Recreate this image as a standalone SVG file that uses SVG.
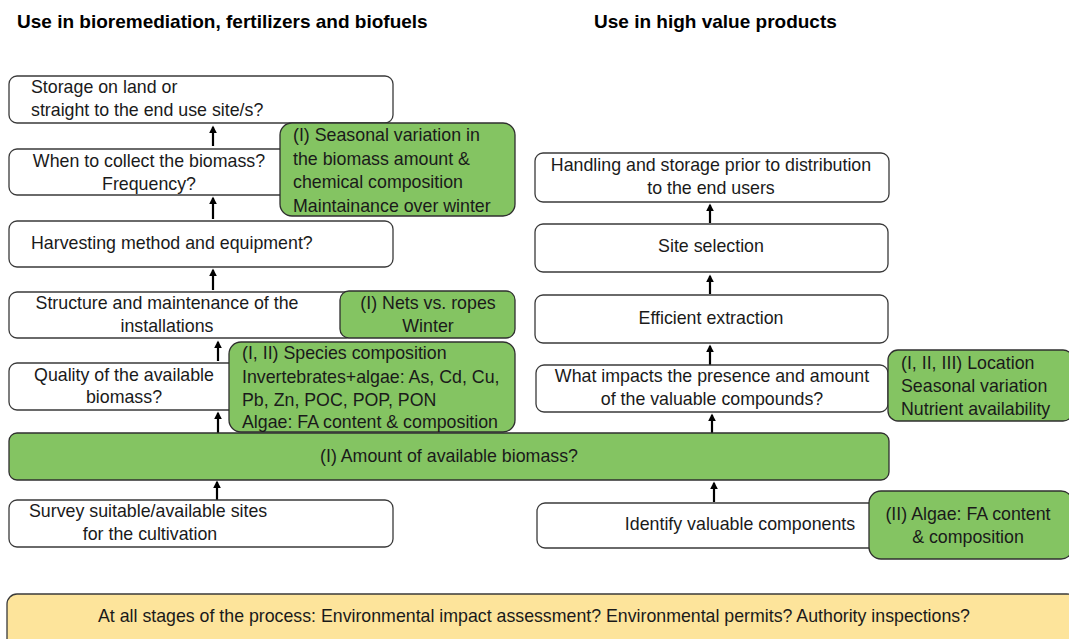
<svg xmlns="http://www.w3.org/2000/svg" width="1069" height="639" viewBox="0 0 1069 639">
<defs>
<style>
.w{fill:#fff;stroke:#3a3a3a;stroke-width:1.3}
.g{fill:#84c462;stroke:#2f2f2f;stroke-width:1.3}
.y{fill:#fde49b;stroke:#3a3a3a;stroke-width:1.3}
text{font-family:"Liberation Sans",Arial,sans-serif;font-size:17.8px;fill:#1a1a1a}
.c{text-anchor:middle}
.t{font-weight:bold;font-size:19px;fill:#000}
.a{stroke:#000;stroke-width:2.2;fill:none;marker-end:url(#ah)}
</style>
<marker id="ah" viewBox="0 0 10 10" refX="8" refY="5" markerWidth="8" markerHeight="8" orient="auto" markerUnits="userSpaceOnUse">
<path d="M0,0 L10,5 L0,10 Z" fill="#000"/>
</marker>
</defs>
<text class="t" x="17" y="28">Use in bioremediation, fertilizers and biofuels</text>
<text class="t" x="594" y="28">Use in high value products</text>

<g id="connectors">
<line class="a" x1="213" y1="146" x2="213" y2="127"/>
<line class="a" x1="213" y1="219" x2="213" y2="198"/>
<line class="a" x1="213" y1="290" x2="213" y2="270"/>
<line class="a" x1="218" y1="361" x2="218" y2="342"/>
<line class="a" x1="218" y1="433" x2="218" y2="413"/>
<line class="a" x1="217" y1="500" x2="217" y2="482"/>
<line class="a" x1="710" y1="223" x2="710" y2="205"/>
<line class="a" x1="710" y1="294" x2="710" y2="276"/>
<line class="a" x1="710" y1="365" x2="710" y2="346"/>
<line class="a" x1="712" y1="433" x2="712" y2="415"/>
<line class="a" x1="714" y1="502" x2="714" y2="483"/>
</g>

<g id="n-storage"><rect class="w" x="9" y="76" width="384" height="47" rx="8"/>
<text x="31" y="93">Storage on land or</text><text x="31" y="116">straight to the end use site/s?</text></g>
<g id="n-when"><rect class="w" x="9" y="149" width="300" height="46" rx="8"/>
<text class="c" x="149" y="167">When to collect the biomass?</text><text class="c" x="149" y="190">Frequency?</text></g>
<g id="n-seasonal"><rect class="g" x="280" y="123" width="235" height="93" rx="12"/>
<text x="293" y="141">(I) Seasonal variation in</text><text x="293" y="165">the biomass amount &amp;</text><text x="293" y="188">chemical composition</text><text x="293" y="212">Maintainance over winter</text></g>
<g id="n-harvest"><rect class="w" x="9" y="221" width="384" height="46" rx="8"/>
<text x="31" y="249">Harvesting method and equipment?</text></g>
<g id="n-structure"><rect class="w" x="9" y="292" width="345" height="46" rx="8"/>
<text class="c" x="167" y="309">Structure and maintenance of the</text><text class="c" x="167" y="332">installations</text></g>
<g id="n-nets"><rect class="g" x="340" y="291" width="175" height="47" rx="9"/>
<text class="c" x="428" y="309">(I) Nets vs. ropes</text><text class="c" x="428" y="332">Winter</text></g>
<g id="n-quality"><rect class="w" x="9" y="363" width="235" height="47" rx="8"/>
<text class="c" x="124" y="381">Quality of the available</text><text class="c" x="124" y="403">biomass?</text></g>
<g id="n-species"><rect class="g" x="229" y="342" width="286" height="90" rx="12"/>
<text x="242" y="359">(I, II) Species composition</text><text x="242" y="383">Invertebrates+algae:  As, Cd, Cu,</text><text x="242" y="406">Pb, Zn, POC, POP, PON</text><text x="242" y="428">Algae: FA content &amp; composition</text></g>
<g id="n-amount"><rect class="g" x="9" y="433" width="880" height="47" rx="8"/>
<text class="c" x="449" y="462">(I) Amount of available biomass?</text></g>
<g id="n-survey"><rect class="w" x="9" y="500" width="384" height="47" rx="8"/>
<text x="29" y="517">Survey suitable/available sites</text><text class="c" x="150" y="540">for the cultivation</text></g>

<g id="n-handling"><rect class="w" x="535" y="153" width="354" height="49" rx="8"/>
<text class="c" x="711" y="171">Handling and storage prior to distribution</text><text class="c" x="711" y="194">to the end users</text></g>
<g id="n-site"><rect class="w" x="535" y="224" width="353" height="48" rx="8"/>
<text class="c" x="711" y="252">Site selection</text></g>
<g id="n-extraction"><rect class="w" x="535" y="295" width="353" height="48" rx="8"/>
<text class="c" x="711" y="324">Efficient extraction</text></g>
<g id="n-impacts"><rect class="w" x="536" y="365" width="352" height="47" rx="8"/>
<text class="c" x="712" y="382">What impacts the presence and amount</text><text class="c" x="712" y="405">of the valuable compounds?</text></g>
<g id="n-location"><rect class="g" x="888" y="350" width="185" height="71" rx="10"/>
<text x="901" y="369">(I, II, III) Location</text><text x="901" y="392">Seasonal variation</text><text x="901" y="415">Nutrient availability</text></g>
<g id="n-identify"><rect class="w" x="537" y="503" width="345" height="45" rx="8"/>
<text class="c" x="740" y="530">Identify valuable components</text></g>
<g id="n-algae"><rect class="g" x="869" y="491" width="204" height="68" rx="12"/>
<text class="c" x="968" y="520">(II) Algae: FA content</text><text class="c" x="968" y="543">&amp; composition</text></g>

<g id="n-stages"><rect class="y" x="7" y="594" width="1070" height="60" rx="10"/>
<text class="c" x="534" y="622" textLength="872" lengthAdjust="spacingAndGlyphs">At all stages of the process: Environmental  impact assessment? Environmental  permits? Authority inspections?</text></g>
</svg>
